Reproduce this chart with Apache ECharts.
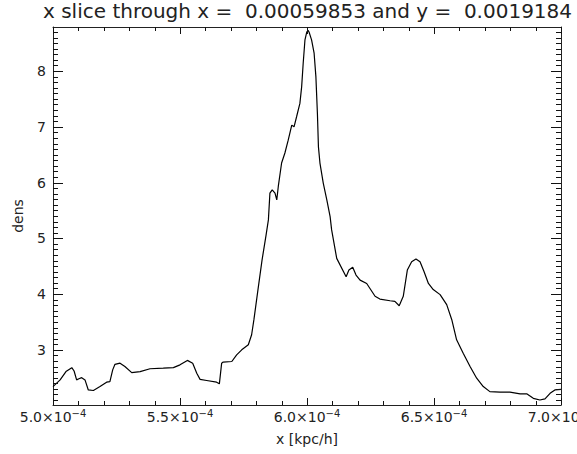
<!DOCTYPE html>
<html>
<head>
<meta charset="utf-8">
<script src="https://cdn.jsdelivr.net/npm/echarts@6/dist/echarts.min.js"></script>
<style>
  html, body { margin: 0; padding: 0; background: #fff; }
  #chart { width: 577px; height: 454px; }
</style>
</head>
<body>
<div id="chart"></div>
<script>
// x positions of the slice, in units of 1e-4 kpc/h
var xVals = [
  5.000, 5.028, 5.051, 5.074, 5.083, 5.093, 5.102, 5.113, 5.126, 5.139,
  5.159, 5.185, 5.211, 5.224, 5.235, 5.244, 5.264, 5.283, 5.310, 5.343,
  5.382, 5.434, 5.474, 5.500, 5.529, 5.550, 5.566, 5.579, 5.605, 5.644,
  5.655, 5.664, 5.670, 5.704, 5.723, 5.743, 5.769, 5.782, 5.791, 5.807,
  5.823, 5.839, 5.848, 5.854, 5.863, 5.874, 5.881, 5.887, 5.900, 5.913,
  5.926, 5.940, 5.949, 5.959, 5.972, 5.979, 5.985, 5.992, 5.999, 6.004,
  6.008, 6.018, 6.028, 6.035, 6.041, 6.045, 6.051, 6.064, 6.078, 6.091,
  6.097, 6.117, 6.154, 6.165, 6.180, 6.193, 6.209, 6.235, 6.268, 6.287,
  6.327, 6.346, 6.363, 6.379, 6.395, 6.412, 6.429, 6.445, 6.461, 6.478,
  6.497, 6.524, 6.550, 6.570, 6.589, 6.615, 6.642, 6.668, 6.694, 6.720,
  6.760, 6.799, 6.839, 6.865, 6.891, 6.917, 6.937, 6.957, 6.976, 7.000
];
// density along the slice
var densVals = [
  2.34, 2.46, 2.61, 2.68, 2.62, 2.46, 2.48, 2.50, 2.46, 2.28,
  2.27, 2.34, 2.42, 2.43, 2.64, 2.74, 2.76, 2.70, 2.59, 2.61,
  2.66, 2.67, 2.68, 2.73, 2.81, 2.76, 2.58, 2.47, 2.45, 2.42,
  2.39, 2.76, 2.78, 2.79, 2.91, 3.00, 3.09, 3.27, 3.54, 4.08,
  4.61, 5.06, 5.33, 5.81, 5.87, 5.81, 5.69, 5.93, 6.35, 6.53,
  6.76, 7.03, 7.00, 7.18, 7.42, 7.72, 8.14, 8.56, 8.70, 8.73,
  8.70, 8.56, 8.32, 7.90, 7.24, 6.64, 6.35, 5.99, 5.69, 5.39,
  5.15, 4.64, 4.31, 4.43, 4.48, 4.34, 4.25, 4.19, 3.96, 3.91,
  3.88, 3.87, 3.79, 3.96, 4.43, 4.58, 4.63, 4.58, 4.40, 4.19,
  4.08, 3.99, 3.81, 3.54, 3.18, 2.94, 2.70, 2.49, 2.34, 2.25,
  2.24, 2.24, 2.21, 2.21, 2.13, 2.10, 2.12, 2.22, 2.28, 2.29
];
var xTickLabels = ['5.0', '5.5', '6.0', '6.5', '7.0'];
var xMajorTicks = [5, 5.5, 6, 6.5, 7];
var yMajorTicks = [3, 4, 5, 6, 7, 8];
var xMin = 5, xMax = 7;
var yMin = 2.01, yMax = 8.79;

// minor tick positions: 0.1e-4 on x, 0.1 on y
var xMinorTicks = [];
for (var i = 51; i < 70; i++) {
  if (i % 5 !== 0) xMinorTicks.push(i / 10);
}
var yMinorTicks = [];
for (var k = 21; k <= 87; k++) {
  if (k % 10 !== 0) yMinorTicks.push(k / 10);
}

var lineData = xVals.map(function (x, i) { return [x, densVals[i]]; });

// tick marks: [value, length, 0 = x axis / 1 = y axis]
var tickData = [];
xMajorTicks.forEach(function (v) { tickData.push([v, 7, 0]); });
xMinorTicks.forEach(function (v) { tickData.push([v, 4, 0]); });
yMajorTicks.forEach(function (v) { tickData.push([v, 10, 1]); });
yMinorTicks.forEach(function (v) { tickData.push([v, 5, 1]); });

var ink = '#222';
var fontFam = 'DejaVu Sans';

function tickLine(x1, y1, x2, y2) {
  return { type: 'line', shape: { x1: x1, y1: y1, x2: x2, y2: y2 }, style: { stroke: '#111', lineWidth: 1 } };
}

function renderTick(params, api) {
  var v = api.value(0), len = api.value(1), orient = api.value(2);
  var a, b;
  if (orient === 0) {
    a = api.coord([v, yMin]);
    b = api.coord([v, yMax]);
    var x = Math.round(a[0]) + 0.5;
    return { type: 'group', children: [
      tickLine(x, a[1], x, a[1] - len),
      tickLine(x, b[1], x, b[1] + len)
    ] };
  }
  a = api.coord([xMin, v]);
  b = api.coord([xMax, v]);
  var y = Math.round(a[1]) + 0.5;
  return { type: 'group', children: [
    tickLine(a[0], y, a[0] + len, y),
    tickLine(b[0], y, b[0] - len, y)
  ] };
}

function axisBase(type, pos, min, max) {
  return {
    type: 'value', position: pos, min: min, max: max,
    splitLine: { show: false },
    axisLine: { show: true, onZero: false, lineStyle: { color: ink } },
    axisTick: { show: false },
    minorTick: { show: false },
    axisLabel: { show: false }
  };
}

var xBottom = axisBase('x', 'bottom', xMin, xMax);
xBottom.interval = 0.5;
xBottom.name = 'x [kpc/h]';
xBottom.nameLocation = 'middle';
xBottom.nameGap = 27;
xBottom.nameTextStyle = { color: ink, fontSize: 14, fontFamily: fontFam };
xBottom.axisLabel = {
  show: true, margin: 3,
  formatter: function (v) {
    var i = Math.round((v - 5) / 0.5);
    return '{b|' + xTickLabels[i] + '×10}{s|−4}';
  },
  rich: {
    b: { fontSize: 14, fontFamily: fontFam, color: ink },
    s: { fontSize: 10, fontFamily: fontFam, color: ink, padding: [0, 0, 7, 0] }
  }
};

var yLeft = axisBase('y', 'left', yMin, yMax);
yLeft.name = 'dens';
yLeft.nameLocation = 'middle';
yLeft.nameGap = 28;
yLeft.nameTextStyle = { color: ink, fontSize: 14, fontFamily: fontFam };
yLeft.axisLabel = { show: true, customValues: yMajorTicks, margin: 7, color: ink, fontSize: 14, fontFamily: fontFam };

var chart = echarts.init(document.getElementById('chart'), null, { renderer: 'svg' });
chart.setOption({
  animation: false,
  title: {
    text: 'x slice through x =  0.00059853 and y =  0.0019184',
    left: 38, top: -4,
    textStyle: { color: ink, fontSize: 20, fontWeight: 'normal', fontFamily: fontFam }
  },
  grid: { left: 53, right: 16, top: 27, bottom: 49, outerBoundsMode: 'none' },
  xAxis: [xBottom, axisBase('x', 'top', xMin, xMax)],
  yAxis: [yLeft, axisBase('y', 'right', yMin, yMax)],
  series: [
    {
      type: 'line',
      data: lineData,
      showSymbol: false,
      lineStyle: { color: '#000', width: 1.2 }
    },
    {
      type: 'custom',
      data: tickData,
      renderItem: renderTick,
      clip: false,
      silent: true,
      z: 5
    }
  ]
});
</script>
</body>
</html>
